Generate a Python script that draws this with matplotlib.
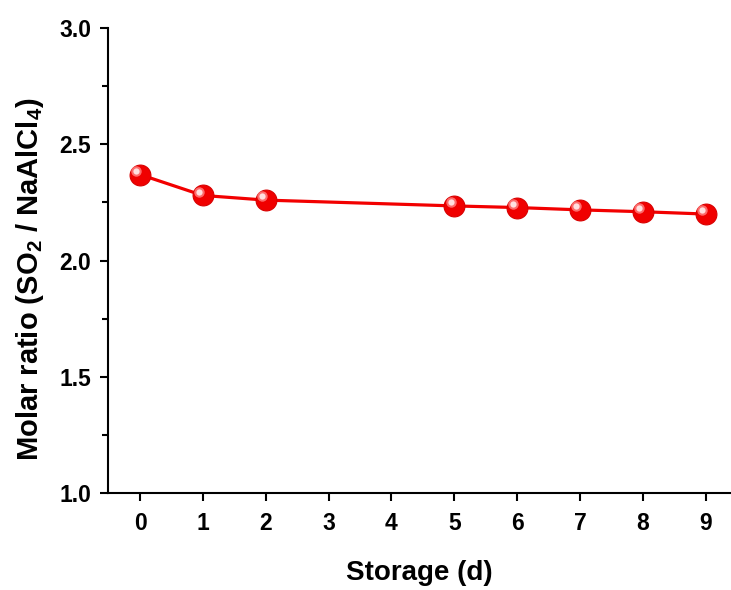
import matplotlib
matplotlib.use("Agg")
import matplotlib.pyplot as plt
import matplotlib.transforms as mtransforms
import numpy as np

# data
storage_days = [0, 1, 2, 5, 6, 7, 8, 9]
molar_ratio = [2.37, 2.28, 2.26, 2.235, 2.228, 2.218, 2.21, 2.20]
x_ticks = list(range(10))
y_ticks = [1.0, 1.5, 2.0, 2.5, 3.0]

plt.rcParams['font.family'] = ['Liberation Sans', 'DejaVu Sans']
plt.rcParams['font.weight'] = 'bold'
plt.rcParams['mathtext.fontset'] = 'custom'
plt.rcParams['mathtext.rm'] = 'Liberation Sans:bold'
plt.rcParams['mathtext.bf'] = 'Liberation Sans:bold'

fig = plt.figure(figsize=(7.31, 5.90), dpi=100)
ax = fig.add_axes([0.1477, 0.1644, 0.852, 0.788])

# line + sphere-like markers
ax.plot(storage_days, molar_ratio, '-', color='#f20000', lw=2.3, zorder=2)
ax.plot(storage_days, molar_ratio, 'o', color='#f00000', ms=15,
        mec='#d80000', mew=0.8, zorder=3)
shift = mtransforms.ScaledTranslation(-2.6 / 72, 2.6 / 72, fig.dpi_scale_trans)
ax.plot(storage_days, molar_ratio, 'o', color='#ff7878', ms=7.5, mew=0,
        transform=ax.transData + shift, zorder=4, alpha=0.9)
ax.plot(storage_days, molar_ratio, 'o', color='#ffe0e0', ms=4.5, mew=0,
        transform=ax.transData + shift, zorder=5)

ax.set_xlim(-0.51, 9.4)
ax.set_ylim(1.0, 3.0)
ax.set_xticks(x_ticks)
ax.set_yticks(y_ticks)
ax.set_yticks(np.arange(1.25, 3.0, 0.5), minor=True)
ax.set_yticklabels([f"{v:.1f}" for v in y_ticks])

for side in ['top', 'right']:
    ax.spines[side].set_visible(False)
for side in ['left', 'bottom']:
    ax.spines[side].set_linewidth(1.5)

ax.tick_params(axis='both', which='major', direction='out', length=6,
               width=1.5, labelsize=16.5, pad=6)
ax.tick_params(axis='x', which='major', pad=8)
ax.tick_params(axis='y', which='minor', direction='out', length=4, width=1.5)

ax.set_xlabel('Storage (d)', fontsize=20, fontweight='bold', labelpad=18)
ax.set_ylabel('Molar ratio (SO$_2$ / NaAlCl$_4$)', fontsize=21,
              fontweight='bold')
ax.yaxis.set_label_coords(-0.10, 0.46)

fig.savefig('out.png', dpi=100)
